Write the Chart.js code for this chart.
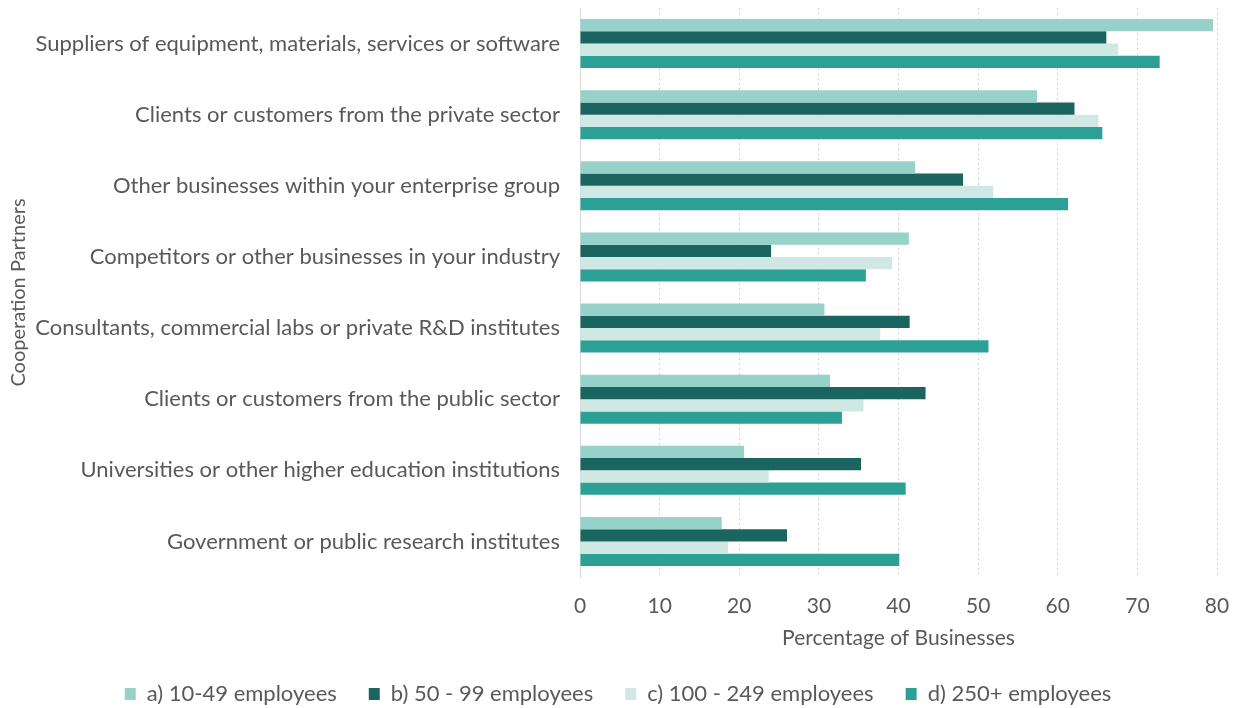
<!DOCTYPE html>
<html>
<head>
<meta charset="utf-8">
<script src="https://cdn.jsdelivr.net/npm/chart.js@4"></script>
<style>
  html, body { margin: 0; padding: 0; background: #fff; }
  #wrap { width: 1239px; height: 708px; }
</style>
</head>
<body>
<div id="wrap"><canvas id="partnersChart"></canvas></div>
<script>
const partners = [
    'Suppliers of equipment, materials, services or software',
    'Clients or customers from the private sector',
    'Other businesses within your enterprise group',
    'Competitors or other businesses in your industry',
    'Consultants, commercial labs or private R&D institutes',
    'Clients or customers from the public sector',
    'Universities or other higher education institutions',
    'Government or public research institutes'
];
const size10to49 = [79.5, 57.4, 42.1, 41.3, 30.7, 31.4, 20.6, 17.8];
const size50to99 = [66.1, 62.1, 48.1, 24.0, 41.4, 43.4, 35.3, 26.0];
const size100to249 = [67.6, 65.1, 51.9, 39.2, 37.7, 35.6, 23.7, 18.6];
const size250plus = [72.8, 65.6, 61.3, 35.9, 51.3, 32.9, 40.9, 40.1];
const xTicks = [0, 10, 20, 30, 40, 50, 60, 70, 80];

document.addEventListener('DOMContentLoaded', () => {
    const ctx = document.getElementById('partnersChart').getContext('2d');
    const font = 'Lato, "Open Sans", sans-serif';
    const grey = '#595959';

    const data = {
        labels: partners,
        datasets: [
            { label: 'a) 10-49 employees', data: size10to49, backgroundColor: '#96d1ca' },
            { label: 'b) 50 - 99 employees', data: size50to99, backgroundColor: '#1b6560' },
            { label: 'c) 100 - 249 employees', data: size100to249, backgroundColor: '#cfe8e4' },
            { label: 'd) 250+ employees', data: size250plus, backgroundColor: '#2da096' }
        ]
    };

    // keep the legend row compact vertically while its items stay spread out
    const shortLegend = {
        id: 'shortLegend',
        afterInit: (chart) => {
            const lg = chart.legend;
            const fit = lg.fit;
            lg.fit = function () {
                fit.call(this);
                this.height = 57;
            };
        }
    };

    new Chart(ctx, {
        type: 'bar',
        data: data,
        options: {
            indexAxis: 'y',
            responsive: true,
            maintainAspectRatio: false,
            animation: false,
            layout: { padding: { top: 8, right: 10, bottom: 0, left: 7 } },
            datasets: { bar: { categoryPercentage: 0.69, barPercentage: 1.0 } },
            scales: {
                x: {
                    min: 0,
                    max: 80,
                    afterBuildTicks: (axis) => { axis.ticks = xTicks.map(v => ({ value: v })); },
                    afterFit: (axis) => {
                        axis.height = 74;
                        axis.paddingRight = 22;
                    },
                    grid: { color: '#d3d3d3', lineWidth: 1, drawTicks: false },
                    border: { display: false, dash: [2, 3] },
                    ticks: { color: grey, font: { family: font, size: 21 }, padding: 17 },
                    title: {
                        display: true,
                        text: 'Percentage of Businesses',
                        color: grey,
                        font: { family: font, size: 21 },
                        padding: { top: 0, bottom: 0 }
                    }
                },
                y: {
                    afterFit: (axis) => {
                        axis.width = 573;
                        axis.paddingTop = 0;
                        axis.paddingBottom = 0;
                    },
                    grid: { display: false },
                    border: { display: true, color: '#d9d9d9', width: 1 },
                    ticks: { color: grey, font: { family: font, size: 22 }, padding: 12 },
                    title: {
                        display: true,
                        text: 'Cooperation Partners',
                        color: grey,
                        font: { family: font, size: 20 },
                        padding: { top: 0, bottom: 0 }
                    }
                }
            },
            plugins: {
                legend: {
                    position: 'bottom',
                    labels: {
                        color: grey,
                        font: { family: font, size: 22 },
                        boxWidth: 11,
                        boxHeight: 12,
                        padding: 32
                    }
                },
                tooltip: { enabled: false }
            }
        },
        plugins: [shortLegend]
    });
});
</script>
</body>
</html>
